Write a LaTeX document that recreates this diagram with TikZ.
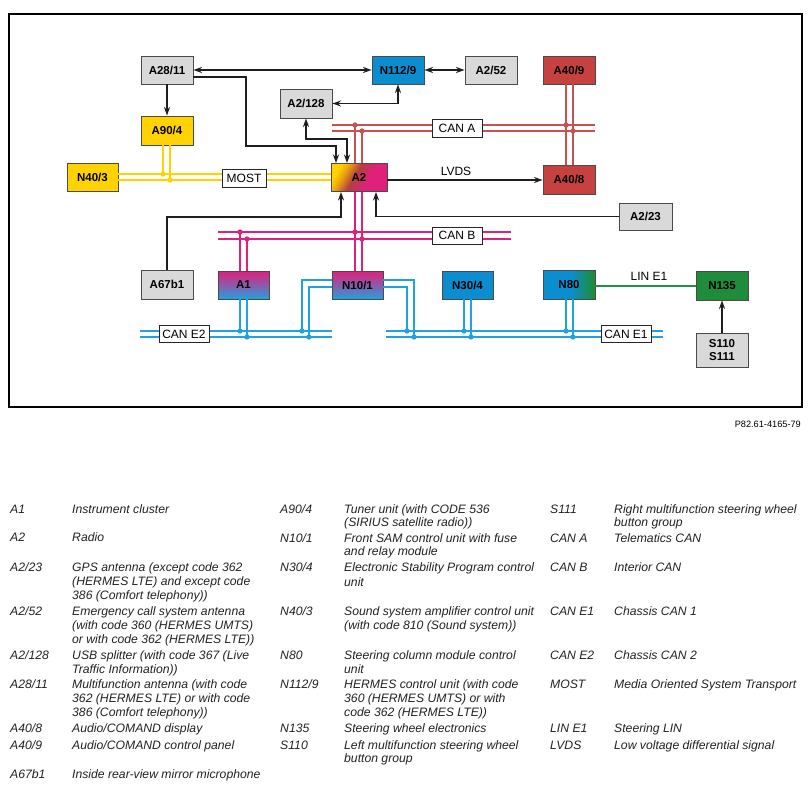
\documentclass[tikz,border=0pt]{standalone}
\usepackage{fontspec}
\setmainfont{Liberation Sans}
\usetikzlibrary{arrows.meta}
\definecolor{boxgray}{HTML}{D9D9D9}
\definecolor{boxline}{HTML}{4A4A4A}
\definecolor{cblue}{HTML}{0A8ECF}
\definecolor{cbus}{HTML}{1EA3E0}
\definecolor{cred}{HTML}{C6413F}
\definecolor{credbus}{HTML}{C85252}
\definecolor{cyel}{HTML}{FFD200}
\definecolor{cmag}{HTML}{E1207C}
\definecolor{cgreen}{HTML}{1E8C3A}
\definecolor{clin}{HTML}{1E9442}
\definecolor{corange}{HTML}{E8A010}
\definecolor{cbrown}{HTML}{B2403E}
\definecolor{cpurp}{HTML}{8C5AAA}
\definecolor{arrcol}{HTML}{1E1E1E}
\definecolor{lgcol}{HTML}{222222}
\pgfdeclarehorizontalshading{shAtwo}{100bp}{color(0bp)=(cyel); color(26bp)=(cyel); color(34bp)=(corange); color(45bp)=(cbrown); color(60bp)=(cmag); color(100bp)=(cmag)}
\pgfdeclarehorizontalshading{shNeighty}{100bp}{color(0bp)=(cblue); color(25bp)=(cblue); color(52bp)=(cblue); color(73bp)=(cgreen); color(100bp)=(cgreen)}
\newcommand\bdot[2]{\fill[#1] (#2) circle (2.7pt);}
\newcommand\lgl[4]{\node[lg] (#1) at (#2,#3) {#4};}
\begin{document}
\begin{tikzpicture}[x=1pt,y=-1pt,
  box/.style={draw=boxline, line width=0.9pt, minimum width=52pt, minimum height=28pt, inner sep=0pt, font=\bfseries\fontsize{11.5}{13}\selectfont, text=black},
  graybox/.style={box, fill=boxgray},
  buslbl/.style={draw=black!85, fill=white, line width=0.8pt, minimum width=50pt, minimum height=17pt, inner sep=0pt, font=\fontsize{12}{14}\selectfont},
  plain/.style={inner sep=0pt, font=\fontsize{12}{14}\selectfont},
  bus/.style={line width=2pt},
  arr/.style={line width=1.5pt, draw=arrcol, >={Stealth[length=8.5pt,width=6pt]}},
  lg/.style={anchor=base west, inner sep=0pt, font=\itshape\fontsize{12.2}{14}\selectfont, text=lgcol}]
\useasboundingbox (0,0) rectangle (811,789);
\draw[line width=1.2pt] (9,14) rectangle (802,407);
% boxes
\node[graybox] (a2811) at (167,70) {A28/11};
\node[box, fill=cblue] (n1129) at (398,70) {N112/9};
\node[graybox] (a252) at (491,70) {A2/52};
\node[box, fill=cred] (a409) at (569,70) {A40/9};
\node[graybox, minimum height=29pt] (a2128) at (306,103.5) {A2/128};
\node[box, fill=cyel, minimum height=29pt] (a904) at (167,130.5) {A90/4};
\node[box, fill=cyel, minimum width=51pt] (n403) at (92.5,177) {N40/3};
\node[box, minimum width=56pt, shade, shading=shAtwo, shading angle=-30] (a2) at (359,177.5) {A2};
\node[box, fill=cred, minimum height=29pt] (a408) at (569,179.5) {A40/8};
\node[graybox, minimum width=53pt, minimum height=27pt] (a223) at (645.5,216.5) {A2/23};
\node[graybox, minimum height=29pt] (a67b1) at (167,284.5) {A67b1};
\node[box, minimum width=51pt, top color=cmag, bottom color=cbus, middle color=cpurp] (a1) at (243.5,285) {A1};
\node[box, minimum width=51pt, top color=cmag, bottom color=cbus, middle color=cpurp] (n101) at (357.5,285) {N10/1};
\node[box, minimum width=51pt, fill=cblue] (n304) at (467.5,285) {N30/4};
\node[box, minimum height=29pt, shade, shading=shNeighty] (n80) at (569,284.5) {N80};
\node[box, fill=cgreen, minimum height=29pt] (n135) at (722,285.5) {N135};
\node[graybox, minimum height=34pt, align=center, font=\bfseries\fontsize{11.5}{12.5}\selectfont] (s110) at (722,350) {S110\\S111};
% MOST
\draw[bus, cyel] (n403.east |- 0,174) -- (a2.west |- 0,174);
\draw[bus, cyel] (n403.east |- 0,180) -- (a2.west |- 0,180);
\draw[bus, cyel] (a904.south -| 163,0) -- (163,174);
\draw[bus, cyel] (a904.south -| 170,0) -- (170,180);
\bdot{cyel}{163,174}\bdot{cyel}{170,180}
% CAN A
\draw[bus, credbus] (332,125) -- (595,125);
\draw[bus, credbus] (332,131) -- (595,131);
\draw[bus, credbus] (a409.south -| 566,0) -- (a408.north -| 566,0);
\draw[bus, credbus] (a409.south -| 573,0) -- (a408.north -| 573,0);
\draw[bus, credbus] (355,125) -- (a2.north -| 355,0);
\draw[bus, credbus] (362,131) -- (a2.north -| 362,0);
\bdot{credbus}{566,125}\bdot{credbus}{573,131}\bdot{credbus}{355,125}\bdot{credbus}{362,131}
% CAN B
\draw[bus, cmag] (218,232) -- (511,232);
\draw[bus, cmag] (218,239) -- (511,239);
\draw[bus, cmag] (a2.south -| 355,0) -- (n101.north -| 355,0);
\draw[bus, cmag] (a2.south -| 362,0) -- (n101.north -| 362,0);
\draw[bus, cmag] (240,232) -- (a1.north -| 240,0);
\draw[bus, cmag] (247,239) -- (a1.north -| 247,0);
\bdot{cmag}{355,232}\bdot{cmag}{362,239}\bdot{cmag}{240,232}\bdot{cmag}{247,239}
% CAN E2
\draw[bus, cbus] (140,331) -- (332,331);
\draw[bus, cbus] (140,337) -- (332,337);
\draw[bus, cbus] (a1.south -| 240,0) -- (240,331);
\draw[bus, cbus] (a1.south -| 247,0) -- (247,337);
\draw[bus, cbus] (n101.west |- 0,280) -- (302,280) -- (302,331);
\draw[bus, cbus] (n101.west |- 0,287) -- (309,287) -- (309,337);
\bdot{cbus}{240,331}\bdot{cbus}{247,337}\bdot{cbus}{302,331}\bdot{cbus}{309,337}
% CAN E1
\draw[bus, cbus] (386,331) -- (663,331);
\draw[bus, cbus] (386,337) -- (663,337);
\draw[bus, cbus] (n101.east |- 0,280) -- (414,280) -- (414,337);
\draw[bus, cbus] (n101.east |- 0,287) -- (407,287) -- (407,331);
\draw[bus, cbus] (n304.south -| 464,0) -- (464,331);
\draw[bus, cbus] (n304.south -| 471,0) -- (471,337);
\draw[bus, cbus] (n80.south -| 566,0) -- (566,331);
\draw[bus, cbus] (n80.south -| 573,0) -- (573,337);
\bdot{cbus}{407,331}\bdot{cbus}{414,337}\bdot{cbus}{464,331}\bdot{cbus}{471,337}\bdot{cbus}{566,331}\bdot{cbus}{573,337}
% LIN E1
\draw[bus, clin, line width=1.8pt] (n80.east |- 0,286) -- (n135.west |- 0,286);
\node[plain] (linlbl) at (649,276) {LIN E1};
% bus labels
\node[buslbl, minimum width=44pt, minimum height=18pt] (most) at (244,178) {MOST};
\node[buslbl, minimum height=18pt] (cana) at (457,128) {CAN A};
\node[buslbl] (canb) at (457,235.5) {CAN B};
\node[buslbl] (cane2) at (184,334) {CAN E2};
\node[buslbl] (cane1) at (626,334) {CAN E1};
% arrows
\draw[arr, <->] (a2811.east) -- (n1129.west);
\draw[arr, <->] (n1129.east) -- (a252.west);
\draw[arr, ->] (a2811.south) -- (a904.north);
\draw[arr, ->] (a2811.east |- 0,77) -- (246,77) -- (246,146) -- (336,146) -- (a2.north -| 336,0);
\draw[arr, <->] (n1129.south) |- (a2128.east);
\draw[arr, <->] (a2128.south) |- (347,139) -- (a2.north -| 347,0);
\draw[arr, ->] (a67b1.north) |- (341,217) -- (a2.south -| 341,0);
\draw[arr, ->] (a223.west) -| (a2.south -| 376,0);
\draw[arr, ->] (a2.east |- 0,180) -- (a408.west |- 0,180);
\node[plain] (lvds) at (456,171) {LVDS};
\draw[arr, ->] (s110.north) -- (n135.south);
\node[inner sep=0pt, anchor=east, font=\fontsize{9.2}{11}\selectfont] (pcode) at (801,424) {P82.61-4165-79};
% legend column 1
\lgl{c1a}{10}{513}{A1}\lgl{d1a}{72}{513}{Instrument cluster}
\lgl{c1b}{10}{541}{A2}\lgl{d1b}{72}{541}{Radio}
\lgl{c1c}{10}{571}{A2/23}\lgl{d1c}{72}{571}{GPS antenna (except code 362}
\lgl{d1c2}{72}{585}{(HERMES LTE) and except code}\lgl{d1c3}{72}{599}{386 (Comfort telephony))}
\lgl{c1d}{10}{615}{A2/52}\lgl{d1d}{72}{615}{Emergency call system antenna}
\lgl{d1d2}{72}{629}{(with code 360 (HERMES UMTS)}\lgl{d1d3}{72}{643}{or with code 362 (HERMES LTE))}
\lgl{c1e}{10}{659}{A2/128}\lgl{d1e}{72}{659}{USB splitter (with code 367 (Live}
\lgl{d1e2}{72}{673}{Traffic Information))}
\lgl{c1f}{10}{688}{A28/11}\lgl{d1f}{72}{688}{Multifunction antenna (with code}
\lgl{d1f2}{72}{702}{362 (HERMES LTE) or with code}\lgl{d1f3}{72}{716}{386 (Comfort telephony))}
\lgl{c1g}{10}{732}{A40/8}\lgl{d1g}{72}{732}{Audio/COMAND display}
\lgl{c1h}{10}{749}{A40/9}\lgl{d1h}{72}{749}{Audio/COMAND control panel}
\lgl{c1i}{10}{778}{A67b1}\lgl{d1i}{72}{778}{Inside rear-view mirror microphone}
% legend column 2
\lgl{c2a}{280}{513}{A90/4}\lgl{d2a}{344}{513}{Tuner unit (with CODE 536}
\lgl{d2a2}{344}{526}{(SIRIUS satellite radio))}
\lgl{c2b}{280}{542}{N10/1}\lgl{d2b}{344}{542}{Front SAM control unit with fuse}
\lgl{d2b2}{344}{555}{and relay module}
\lgl{c2c}{280}{571}{N30/4}\lgl{d2c}{344}{571}{Electronic Stability Program control}
\lgl{d2c2}{344}{586}{unit}
\lgl{c2d}{280}{615}{N40/3}\lgl{d2d}{344}{615}{Sound system amplifier control unit}
\lgl{d2d2}{344}{629}{(with code 810 (Sound system))}
\lgl{c2e}{280}{659}{N80}\lgl{d2e}{344}{659}{Steering column module control}
\lgl{d2e2}{344}{673}{unit}
\lgl{c2f}{280}{688}{N112/9}\lgl{d2f}{344}{688}{HERMES control unit (with code}
\lgl{d2f2}{344}{702}{360 (HERMES UMTS) or with}\lgl{d2f3}{344}{716}{code 362 (HERMES LTE))}
\lgl{c2g}{280}{732}{N135}\lgl{d2g}{344}{732}{Steering wheel electronics}
\lgl{c2h}{280}{749}{S110}\lgl{d2h}{344}{749}{Left multifunction steering wheel}
\lgl{d2h2}{344}{762}{button group}
% legend column 3
\lgl{c3a}{550}{513}{S111}\lgl{d3a}{614}{513}{Right multifunction steering wheel}
\lgl{d3a2}{614}{526}{button group}
\lgl{c3b}{550}{542}{CAN A}\lgl{d3b}{614}{542}{Telematics CAN}
\lgl{c3c}{550}{571}{CAN B}\lgl{d3c}{614}{571}{Interior CAN}
\lgl{c3d}{550}{615}{CAN E1}\lgl{d3d}{614}{615}{Chassis CAN 1}
\lgl{c3e}{550}{659}{CAN E2}\lgl{d3e}{614}{659}{Chassis CAN 2}
\lgl{c3f}{550}{688}{MOST}\lgl{d3f}{614}{688}{Media Oriented System Transport}
\lgl{c3g}{550}{732}{LIN E1}\lgl{d3g}{614}{732}{Steering LIN}
\lgl{c3h}{550}{749}{LVDS}\lgl{d3h}{614}{749}{Low voltage differential signal}
\end{tikzpicture}
\end{document}
